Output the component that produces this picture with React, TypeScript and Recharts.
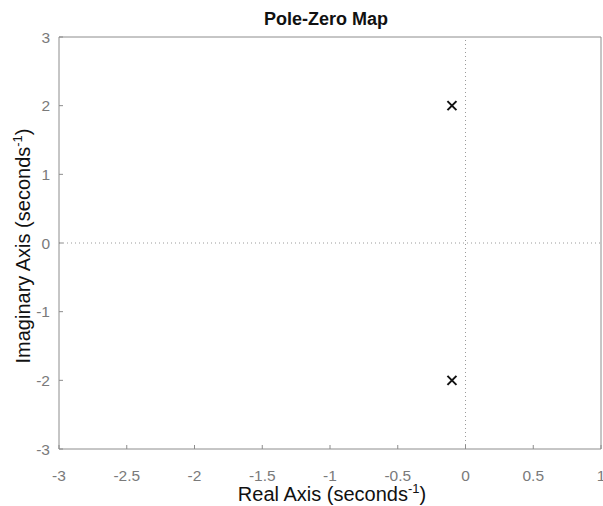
import React from 'react';
import {
    ScatterChart,
    Scatter,
    XAxis,
    YAxis,
    ReferenceLine,
    Label,
} from 'recharts';

const poleReal = [-0.1, -0.1];
const poleImag = [2, -2];
const realTicks = [-3, -2.5, -2, -1.5, -1, -0.5, 0, 0.5, 1];
const imagTicks = [-3, -2, -1, 0, 1, 2, 3];

const poles = poleReal.map((re, i) => ({ re, im: poleImag[i] }));

const FONT = '"Liberation Sans", Arial, sans-serif';
const FRAME = '#8c8c8c';
const TICK_TEXT = { fontSize: 15.5, fill: '#7a7a7a', fontFamily: FONT };

const Cross = (props: any) => {
    const { cx, cy } = props;
    const r = 4.5;
    return (
        <g stroke="#111" strokeWidth={2}>
            <line x1={cx - r} y1={cy - r} x2={cx + r} y2={cy + r} />
            <line x1={cx - r} y1={cy + r} x2={cx + r} y2={cy - r} />
        </g>
    );
};

const App: React.FC = () => {
    return (
        <div style={{ position: 'absolute', left: 0, top: 0, background: '#fff' }}>
            <ScatterChart
                width={603}
                height={506}
                margin={{ top: 36, right: 1, left: 0, bottom: 0 }}
            >
                {/* top and right axes only draw the frame and inward ticks */}
                <XAxis
                    xAxisId="top"
                    orientation="top"
                    type="number"
                    dataKey="re"
                    domain={[-3, 1]}
                    ticks={realTicks}
                    height={1}
                    tick={() => <g />}
                    tickSize={-4}
                    stroke={FRAME}
                >
                    <Label
                        content={() => (
                            <text
                                x={326}
                                y={25}
                                textAnchor="middle"
                                fontFamily={FONT}
                                fontSize={18}
                                fontWeight="bold"
                                fill="#111"
                            >
                                Pole-Zero Map
                            </text>
                        )}
                    />
                </XAxis>
                <YAxis
                    yAxisId="right"
                    orientation="right"
                    type="number"
                    dataKey="im"
                    domain={[-3, 3]}
                    ticks={imagTicks}
                    width={1}
                    tick={() => <g />}
                    tickSize={-4}
                    stroke={FRAME}
                />
                <XAxis
                    type="number"
                    dataKey="re"
                    domain={[-3, 1]}
                    ticks={realTicks}
                    height={57}
                    tickSize={-4}
                    tickMargin={25}
                    stroke={FRAME}
                    tick={TICK_TEXT}
                    interval={0}
                >
                    <Label
                        content={(p: any) => (
                            <text
                                x={332}
                                y={p.viewBox.y + 52}
                                textAnchor="middle"
                                fontFamily={FONT}
                                fontSize={20}
                                fill="#111"
                            >
                                Real Axis (seconds
                                <tspan dy={-8} fontSize={13}>-1</tspan>
                                <tspan dy={8}>)</tspan>
                            </text>
                        )}
                    />
                </XAxis>
                <YAxis
                    type="number"
                    dataKey="im"
                    domain={[-3, 3]}
                    ticks={imagTicks}
                    width={59}
                    tickSize={-4}
                    tickMargin={13}
                    stroke={FRAME}
                    tick={TICK_TEXT}
                    interval={0}
                >
                    <Label
                        content={() => {
                            const cx = 30;
                            const cy = 246;
                            return (
                                <text
                                    x={cx}
                                    y={cy}
                                    textAnchor="middle"
                                    transform={`rotate(-90, ${cx}, ${cy})`}
                                    fontFamily={FONT}
                                    fontSize={20}
                                    fill="#111"
                                >
                                    Imaginary Axis (seconds
                                    <tspan dy={-8} fontSize={13}>-1</tspan>
                                    <tspan dy={8}>)</tspan>
                                </text>
                            );
                        }}
                    />
                </YAxis>
                <ReferenceLine x={0} stroke="#9a9a9a" strokeDasharray="1 3" />
                <ReferenceLine y={0} stroke="#9a9a9a" strokeDasharray="1 3" />
                <Scatter data={poles} shape={Cross} isAnimationActive={false} />
            </ScatterChart>
        </div>
    );
};

export default App;
